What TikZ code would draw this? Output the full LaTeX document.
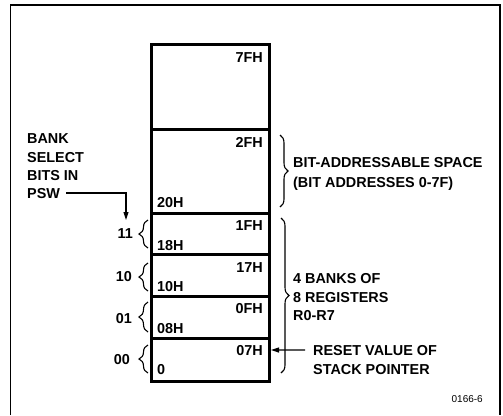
\documentclass[tikz,border=0pt]{standalone}
\usepackage{fontspec}
\setmainfont{Liberation Sans}
\usetikzlibrary{decorations.pathreplacing,arrows.meta}
\begin{document}
\begin{tikzpicture}[x=1pt,y=-1pt,
  lbl/.style={font=\fontsize{14.4}{16}\selectfont\bfseries, inner sep=0pt},
  cell/.style={draw,line width=3pt,minimum width=118pt,inner sep=0pt,anchor=north west},
  lbrace/.style={decorate,decoration={brace,amplitude=9pt},line width=1.1pt},
  rbrace/.style={decorate,decoration={brace,amplitude=8pt},line width=1.1pt},
  arr/.style={line width=1.1pt,-{Triangle[length=8pt,width=5pt]}},
  frame/.style={line width=1.8pt}]
\useasboundingbox (0,0) rectangle (503,415);
% outer frame
\draw[frame] (10.5,415) -- (10.5,5) -- (500,5) -- (500,415);
% memory cells
\node[cell,minimum height=85pt] (c7f) at (150,43) {};
\node[cell,minimum height=84pt] (c2f) at (150,128) {};
\node[cell,minimum height=41pt] (c1f) at (150,212) {};
\node[cell,minimum height=42pt] (c17) at (150,253) {};
\node[cell,minimum height=42pt] (c0f) at (150,295) {};
\node[cell,minimum height=43pt] (c07) at (150,337) {};
% address labels
\node[lbl,anchor=base east] (a7f) at (263,62) {7FH};
\node[lbl,anchor=base east] (a2f) at (263,147) {2FH};
\node[lbl,anchor=base west] (a20) at (157,207) {20H};
\node[lbl,anchor=base east] (a1f) at (263,230) {1FH};
\node[lbl,anchor=base west] (a18) at (157,250) {18H};
\node[lbl,anchor=base east] (a17) at (263,272) {17H};
\node[lbl,anchor=base west] (a10) at (157,291) {10H};
\node[lbl,anchor=base east] (a0f) at (263,313) {0FH};
\node[lbl,anchor=base west] (a08) at (157,333) {08H};
\node[lbl,anchor=base east] (a07) at (263,355) {07H};
\node[lbl,anchor=base west] (a00) at (157,374) {0};
% bank select bits
\node[lbl,anchor=base east] (b11) at (133,238) {11};
\node[lbl,anchor=base east] (b10) at (132,281) {10};
\node[lbl,anchor=base east] (b01) at (132,323) {01};
\node[lbl,anchor=base east] (b00) at (130,364) {00};
\draw[lbrace] (148,248) -- (148,220);
\draw[lbrace] (148,291) -- (148,263);
\draw[lbrace] (148,332) -- (148,302);
\draw[lbrace] (148,373) -- (148,345);
% left text
\node[lbl,anchor=base west] (t1) at (27,143) {BANK};
\node[lbl,anchor=base west] (t2) at (27,162) {SELECT};
\node[lbl,anchor=base west] (t3) at (27,180) {BITS IN};
\node[lbl,anchor=base west] (psw) at (27,198) {PSW};
\coordinate (pswend) at (126,220);
\draw[arr] ([xshift=6pt]psw.east) -| (pswend);
% right braces and text
\draw[rbrace] (280,135) -- (280,207);
\draw[rbrace] (281,218) -- (281,373);
\node[lbl,anchor=base west] (r1) at (293,167) {BIT-ADDRESSABLE SPACE};
\node[lbl,anchor=base west] (r2) at (293,187) {(BIT ADDRESSES 0-7F)};
\node[lbl,anchor=base west] (g1) at (293,283) {4 BANKS OF};
\node[lbl,anchor=base west] (g2) at (293,302) {8 REGISTERS};
\node[lbl,anchor=base west] (g3) at (293,320) {R0-R7};
\node[lbl,anchor=base west] (s1) at (313,355) {RESET VALUE OF};
\node[lbl,anchor=base west] (s2) at (313,374) {STACK POINTER};
\coordinate (sptr) at (271,350);
\draw[arr] ([xshift=-8pt]s1.west) -- (sptr);
% figure number
\node[font=\fontsize{10}{12}\selectfont,inner sep=0pt,anchor=base east] (fig) at (483,402) {0166-6};
\end{tikzpicture}
\end{document}
